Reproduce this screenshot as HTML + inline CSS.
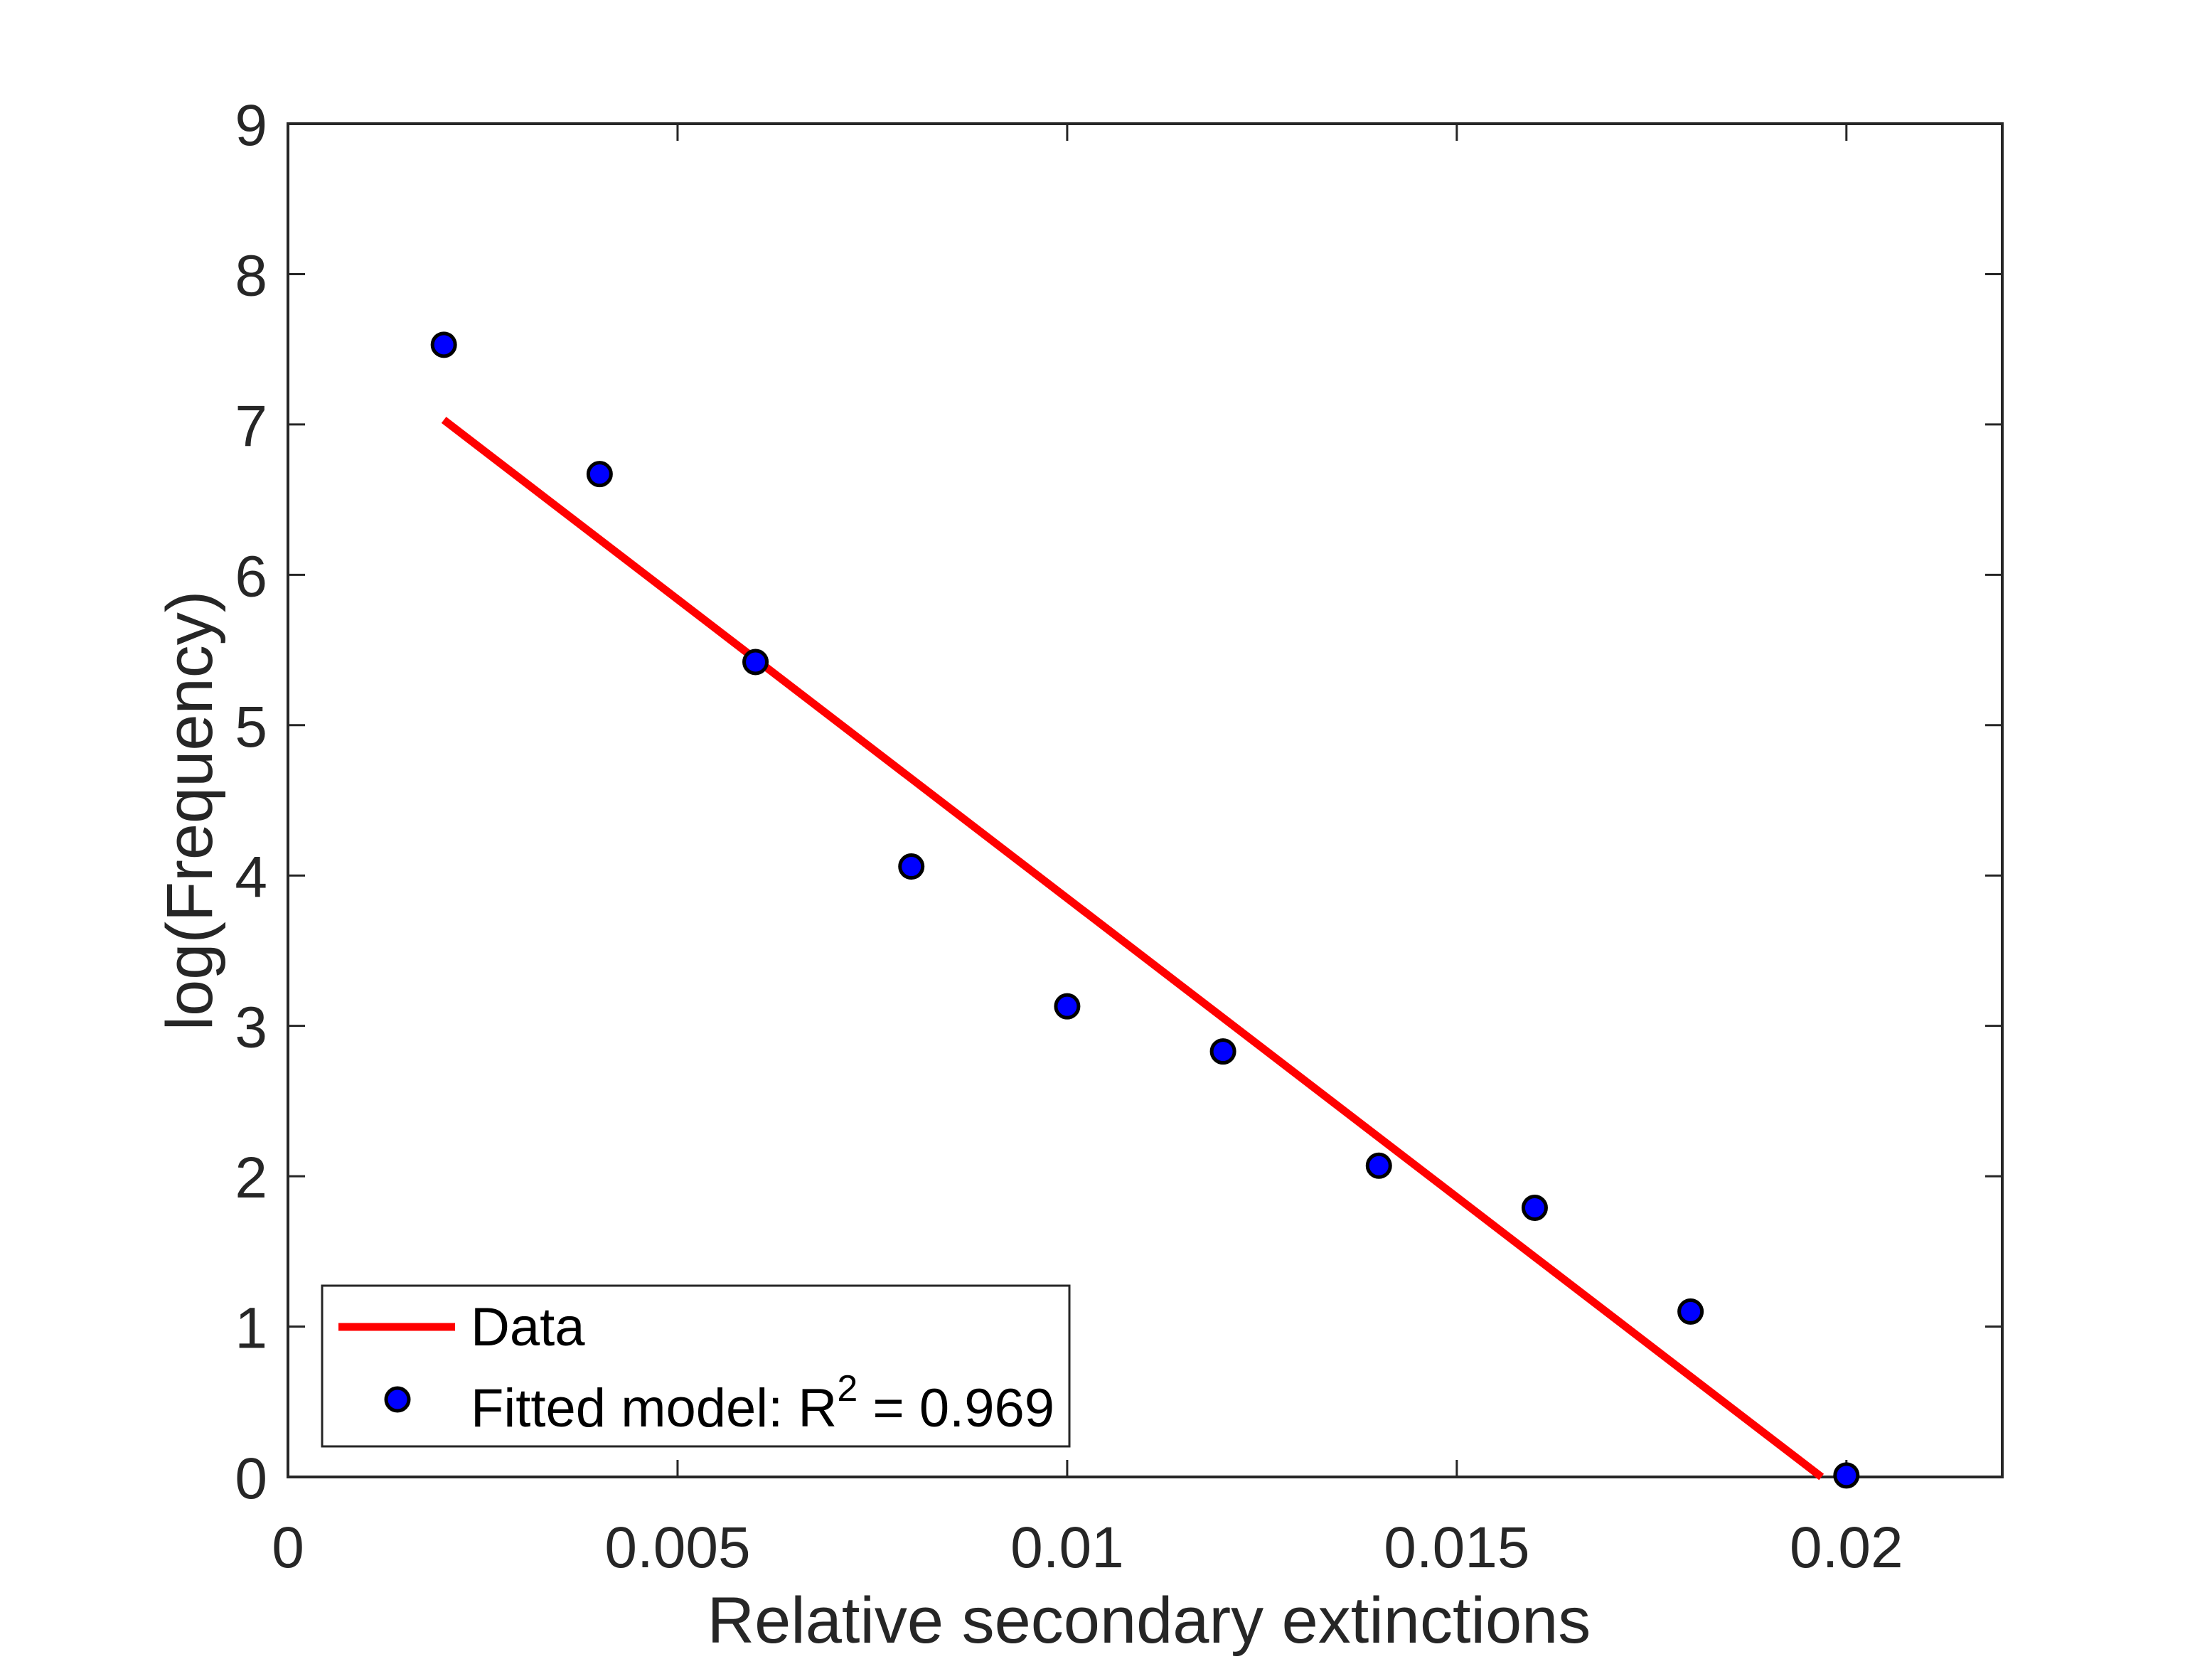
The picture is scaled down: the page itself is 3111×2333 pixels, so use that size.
<!DOCTYPE html>
<html><head><meta charset="utf-8"><style>html,body{margin:0;padding:0;background:#fff}svg{display:block}</style></head>
<body>
<svg id="chart" width="3111" height="2333" xmlns="http://www.w3.org/2000/svg" font-family="'Liberation Sans', sans-serif">
<rect width="3111" height="2333" fill="#fff"/>
<g id="axes"></g>
<g id="marks"></g>
<text x="1616" y="2310" font-size="92" fill="#262626" text-anchor="middle">Relative secondary extinctions</text>
<text transform="translate(298,1140) rotate(-90)" font-size="92" fill="#262626" text-anchor="middle">log(Frequency)</text>
<g transform="translate(0,-14)">
<rect x="453" y="1822" width="1051" height="226" fill="#fff" stroke="#262626" stroke-width="3"/>
<line x1="476" y1="1880" x2="640" y2="1880" stroke="#ff0000" stroke-width="11"/>
<text x="662" y="1906" font-size="76" fill="#000">Data</text>
<circle cx="559" cy="1982" r="16" fill="#0000ff" stroke="#000" stroke-width="5"/>
<text x="662" y="2020" font-size="76" fill="#000">Fitted model: R<tspan dy="-36" font-size="52">2</tspan><tspan dy="36"> = 0.969</tspan></text>
</g>
</svg>
<script>
const xData = [0.002,0.004,0.006,0.008,0.010,0.012,0.014,0.016,0.018,0.020];
const yData = [7.53,6.67,5.42,4.06,3.13,2.83,2.07,1.79,1.10,0.01];
const fitX = [0.002,0.01968];
const fitY = [7.03,0.0];
const xTicks = [0,0.005,0.01,0.015,0.02];
const xTickLabels = ["0","0.005","0.01","0.015","0.02"];
const yTicks = [0,1,2,3,4,5,6,7,8,9];
const L=405,R=2816,T=174,B=2077,XMAX=0.022,YMAX=9;
function sx(v){return L+(R-L)*v/XMAX;}
function sy(v){return B-(B-T)*v/YMAX;}
const NS="http://www.w3.org/2000/svg";
function mk(tag,attrs,parent){const e=document.createElementNS(NS,tag);for(const k in attrs)e.setAttribute(k,attrs[k]);parent.appendChild(e);return e;}
const axes=document.getElementById('axes');
const marks=document.getElementById('marks');
let box=mk('rect',{x:L,y:T,width:R-L,height:B-T,fill:'none',stroke:'#262626','stroke-width':4},axes);


xTicks.forEach((t,i)=>{
  const x=sx(t);
  let a=mk('line',{x1:x,y1:B,x2:x,y2:B-24,stroke:'#262626','stroke-width':3},axes);
  
  
  let b=mk('line',{x1:x,y1:T,x2:x,y2:T+24,stroke:'#262626','stroke-width':3},axes);
  
  
  let tx=mk('text',{x:x,y:2204,'font-size':82,fill:'#262626','text-anchor':'middle'},axes);
  tx.textContent=xTickLabels[i];
  
  
});
yTicks.forEach(t=>{
  const y=sy(t);
  let a=mk('line',{x1:L,y1:y,x2:L+24,y2:y,stroke:'#262626','stroke-width':3},axes);
  
  
  let b=mk('line',{x1:R,y1:y,x2:R-24,y2:y,stroke:'#262626','stroke-width':3},axes);
  
  
  let tx=mk('text',{x:376,y:y+30,'font-size':82,fill:'#262626','text-anchor':'end'},axes);
  tx.textContent=String(t);
  
  
});
let fl=mk('line',{x1:sx(fitX[0]),y1:sy(fitY[0]),x2:sx(fitX[1]),y2:sy(fitY[1]),stroke:'#ff0000','stroke-width':11},marks);


xData.forEach((x,i)=>{
  let c=mk('circle',{cx:sx(x),cy:sy(yData[i]),r:16,fill:'#0000ff',stroke:'#000','stroke-width':5},marks);
  
  
});
</script>
</body></html>
